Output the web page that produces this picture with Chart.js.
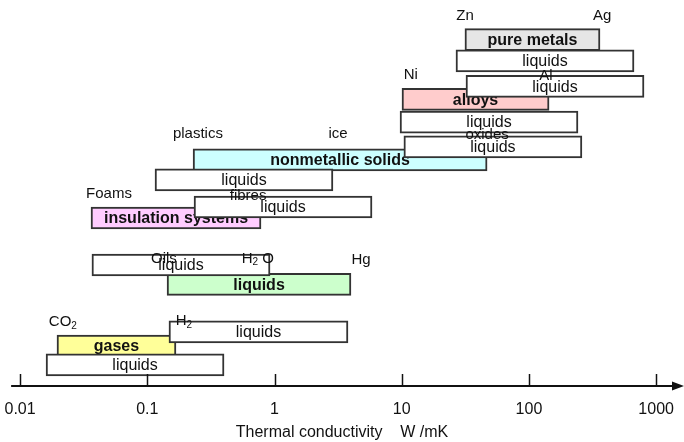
<!DOCTYPE html>
<html>
<head>
<meta charset="utf-8">
<script src="https://cdn.jsdelivr.net/npm/chart.js@4.4.1/dist/chart.umd.min.js"></script>
<style>
  html, body { margin: 0; padding: 0; background: #fff; }
  #wrap { width: 684px; height: 442px; }
</style>
</head>
<body>
<div id="wrap"><canvas id="myChart"></canvas></div>
<script>
// conductivity ranges, W/mK - listed bottom of the pile first
const barNames = ['pure metals', 'liquids', 'alloys', 'liquids', 'liquids', 'nonmetallic solids', 'liquids', 'liquids',
  'insulation systems', 'liquids', 'liquids', 'liquids', 'gases', 'liquids', 'liquids'];
const barLow  = [31.4, 26.7, 10.05, 32, 9.7, 0.229, 10.4, 0.115, 0.0361, 0.233, 0.143, 0.0367, 0.0195, 0.148, 0.016];
const barHigh = [362, 670, 144, 803, 243, 46.9, 261, 2.88, 0.783, 5.84, 3.99, 0.922, 0.168, 3.78, 0.401];
const barRow  = [1.8, 2.77, 4.52, 3.93, 5.55, 7.27, 6.68, 8.18, 9.91, 9.41, 12.93, 12.05, 15.73, 15.09, 16.59];
const barFill = ['#e6e6e6', '#ffffff', '#ffcccc', '#ffffff', '#ffffff', '#ccffff', '#ffffff', '#ffffff',
  '#ffccff', '#ffffff', '#ccffcc', '#ffffff', '#ffff99', '#ffffff', '#ffffff'];
const barBold = [true, false, true, false, false, true, false, false, true, false, true, false, true, false, false];

// material notes ("_2" = subscript 2)
const notes   = ['Zn', 'Ag', 'Ni', 'Al', 'oxides', 'plastics', 'ice', 'Foams', 'fibres', 'Oils', 'H_2 O', 'Hg', 'CO_2', 'H_2'];
const noteX   = [31.5, 376, 11.8, 136, 46.9, 0.25, 3.16, 0.05, 0.62, 0.135, 0.74, 4.79, 0.0217, 0.194];
const noteRow = [0.7, 0.7, 3.41, 3.47, 6.12, 6.1, 6.1, 8.82, 8.9, 11.75, 11.75, 11.8, 14.64, 14.6];

const tickValues = [0.01, 0.1, 1, 10, 100, 1000];
const tickText = ['0.01', '0.1', '1', '10', '100', '1000'];
const axisFrom = 0.0085;

const FONT = '"Liberation Sans", Arial, sans-serif';

const datasets = barNames.map((name, i) => ({
  label: name,
  data: [{ x: [barLow[i], barHigh[i]], y: barRow[i] }],
  backgroundColor: barFill[i],
  borderColor: '#333333',
  borderWidth: 2,
  borderSkipped: false,
  barThickness: 22,
  grouped: false,
  order: barNames.length - i
}));

// text inside each bar, drawn right after its bar so later boxes cover it
const barLabels = {
  id: 'barLabels',
  afterDatasetDraw(chart, args) {
    const i = args.index;
    const bar = args.meta.data[0];
    if (!bar) return;
    const c = chart.ctx;
    c.save();
    c.fillStyle = '#111';
    c.font = (barBold[i] ? 'bold ' : '') + '16px ' + FONT;
    c.textAlign = 'center';
    c.textBaseline = 'middle';
    c.fillText(barNames[i], (bar.x + bar.base) / 2, bar.y + 1);
    c.restore();
  }
};

function drawNote(c, text, cx, cy) {
  const parts = text.split('_');
  const pieces = [];
  parts.forEach((p, k) => {
    if (k === 0) {
      pieces.push({ t: p, sub: false });
    } else {
      pieces.push({ t: p.charAt(0), sub: true });
      if (p.length > 1) pieces.push({ t: p.slice(1), sub: false });
    }
  });
  let w = 0;
  pieces.forEach(pc => {
    c.font = (pc.sub ? '10px ' : '15px ') + FONT;
    pc.w = c.measureText(pc.t).width;
    w += pc.w;
  });
  let x = cx - w / 2;
  pieces.forEach(pc => {
    c.font = (pc.sub ? '10px ' : '15px ') + FONT;
    c.fillText(pc.t, x, pc.sub ? cy + 4 : cy);
    x += pc.w;
  });
}

// x axis with arrow, tick marks above the line, and the notes on top
const axisAndNotes = {
  id: 'axisAndNotes',
  afterDraw(chart) {
    const c = chart.ctx;
    const xs = chart.scales.x;
    const ys = chart.scales.y;
    const yb = chart.chartArea.bottom;
    const x0 = xs.getPixelForValue(axisFrom);
    const x1 = chart.width;
    c.save();
    c.strokeStyle = '#111';
    c.fillStyle = '#111';
    c.lineWidth = 2;
    c.beginPath();
    c.moveTo(x0, yb);
    c.lineTo(x1 - 8, yb);
    c.stroke();
    c.beginPath();
    c.moveTo(x1, yb);
    c.lineTo(x1 - 12, yb - 4.5);
    c.lineTo(x1 - 12, yb + 4.5);
    c.closePath();
    c.fill();
    c.lineWidth = 1.5;
    tickValues.forEach(v => {
      const px = Math.round(xs.getPixelForValue(v)) + 0.5;
      c.beginPath();
      c.moveTo(px, yb - 12);
      c.lineTo(px, yb);
      c.stroke();
    });

    c.textAlign = 'left';
    c.textBaseline = 'middle';
    notes.forEach((n, i) => {
      drawNote(c, n, xs.getPixelForValue(noteX[i]), ys.getPixelForValue(noteRow[i]));
    });
    c.restore();
  }
};

const ctx = document.getElementById('myChart').getContext('2d');
new Chart(ctx, {
  type: 'bar',
  data: { datasets },
  options: {
    indexAxis: 'y',
    responsive: true,
    maintainAspectRatio: false,
    animation: false,
    layout: { padding: 0 },
    plugins: {
      legend: { display: false },
      tooltip: { enabled: false }
    },
    scales: {
      x: {
        type: 'logarithmic',
        min: 0.00695,
        max: 1656,
        afterBuildTicks: scale => {
          scale.ticks = tickValues.map(v => ({ value: v }));
        },
        afterFit: scale => {
          // full width plot, fixed band below the axis line
          scale.paddingLeft = 0;
          scale.paddingRight = 0;
          scale.height = 56;
        },
        grid: { display: false, drawTicks: false },
        border: { display: false },
        ticks: {
          autoSkip: false,
          maxRotation: 0,
          padding: 14,
          color: '#111',
          font: { family: FONT, size: 16 },
          callback: (value, index) => tickText[index]
        },
        title: {
          display: true,
          text: 'Thermal conductivity    W /mK',
          color: '#111',
          font: { family: FONT, size: 16 },
          padding: { top: 5, bottom: 0 }
        }
      },
      y: {
        type: 'linear',
        display: false,
        offset: false,
        reverse: true,
        min: 0,
        max: 17.55
      }
    }
  },
  plugins: [barLabels, axisAndNotes]
});
</script>
</body>
</html>
